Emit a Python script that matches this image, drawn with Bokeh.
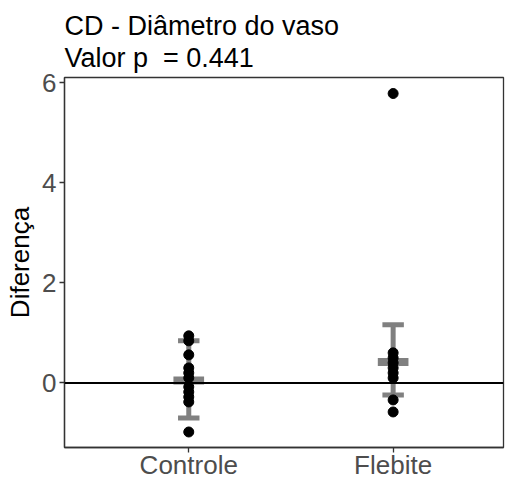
from bokeh.plotting import figure
from bokeh.embed import file_html
from bokeh.resources import INLINE
from bokeh.models import FixedTicker, Span

# ---- data ----
categories = ["Controle", "Flebite"]
controle_vals = [0.94, 0.84, 0.56, 0.30, 0.20, 0.10, -0.08, -0.18, -0.28, -0.38, -0.98]
flebite_vals = [5.78, 0.60, 0.50, 0.40, 0.30, 0.20, 0.10, -0.34, -0.58]
summary_center = [0.05, 0.42]
summary_lower = [-0.70, -0.24]
summary_upper = [0.84, 1.16]
y_ticks = [0, 2, 4, 6]
title_lines = ["CD - Diâmetro do vaso", "Valor p\u00a0 = 0.441"]
y_label = "Diferença"

FONT = "Liberation Sans"

p = figure(width=505, height=482, output_backend="svg", toolbar_location=None,
           x_range=(0.392, 2.54), y_range=(-1.29, 6.10),
           min_border_left=64, min_border_right=2, min_border_top=77, min_border_bottom=0)

p.title.text = "\n".join(title_lines)
p.title.text_font = FONT
p.title.text_font_size = "27px"
p.title.text_font_style = "normal"
p.title.text_color = "black"
p.title.text_line_height = 1.05
p.title.align = "left"
p.title.offset = 0
p.title.standoff = 10

p.background_fill_color = "white"
p.border_fill_color = "white"
p.xgrid.visible = False
p.ygrid.visible = False
p.outline_line_color = "#333333"
p.outline_line_width = 1.3

xpos = list(range(1, len(categories) + 1))

# summary: vertical bars, caps, crossbars
gray = "#808080"
p.segment(x0=xpos, y0=summary_lower, x1=xpos, y1=summary_upper, line_color=gray, line_width=5)
p.rect(x=xpos, y=summary_upper, width=0.105, height=5, height_units="screen",
       fill_color=gray, line_color=None)
p.rect(x=xpos, y=summary_lower, width=0.105, height=5, height_units="screen",
       fill_color=gray, line_color=None)
p.rect(x=xpos, y=summary_center, width=0.15, height=8, height_units="screen",
       fill_color=gray, line_color=None)

# points
px = [1] * len(controle_vals) + [2] * len(flebite_vals)
py = controle_vals + flebite_vals
p.scatter(x=px, y=py, size=10, fill_color="black", line_color="black")

# zero line
p.add_layout(Span(location=0, dimension="width", line_color="black", line_width=2))

# axes
p.xaxis.ticker = FixedTicker(ticks=xpos)
p.xaxis.major_label_overrides = {i: c for i, c in zip(xpos, categories)}
p.yaxis.ticker = FixedTicker(ticks=y_ticks)
p.yaxis.axis_label = y_label

for ax in (p.xaxis[0], p.yaxis[0]):
    ax.axis_line_color = "#333333"
    ax.axis_line_width = 1.3
    ax.major_tick_line_color = "#333333"
    ax.major_tick_line_width = 1.3
    ax.major_tick_out = 5
    ax.major_tick_in = 0
    ax.minor_tick_line_color = None
    ax.major_label_text_font = FONT
    ax.major_label_text_font_size = "26px"
    ax.major_label_text_color = "#4D4D4D"
    ax.major_label_standoff = 3
    ax.axis_label_text_font = FONT
    ax.axis_label_text_font_size = "26px"
    ax.axis_label_text_font_style = "normal"
    ax.axis_label_text_color = "black"
    ax.axis_label_standoff = 4

p.xaxis[0].major_label_standoff = -3

open("out.html", "w").write(file_html(p, INLINE))
